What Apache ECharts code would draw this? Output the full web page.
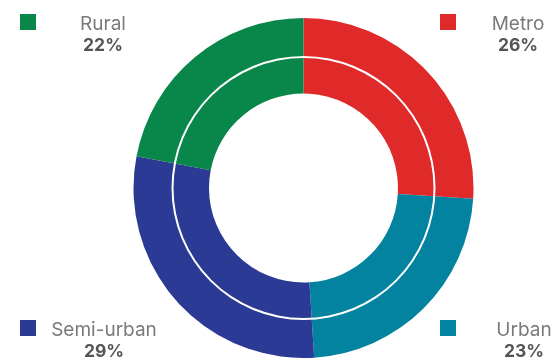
<!DOCTYPE html>
<html>
<head>
<meta charset="utf-8">
<script src="https://cdn.jsdelivr.net/npm/echarts@6/dist/echarts.min.js"></script>
<style>
html,body{margin:0;padding:0;background:#fff;}
#c{width:554px;height:358px;}
</style>
</head>
<body>
<div id="c"></div>
<script>
const categories = ['Metro', 'Urban', 'Semi-urban', 'Rural'];
const values = [26, 23, 29, 22];
const colors = ['#E02A2A', '#0383A0', '#2B3A94', '#09874B'];

const chart = echarts.init(document.getElementById('c'), null, {renderer: 'canvas'});

function legendFor(name, pos, boxW) {
  const idx = categories.indexOf(name);
  return Object.assign({
    data: [name],
    orient: 'vertical',
    itemWidth: 16,
    itemHeight: 16,
    itemGap: 0,
    padding: 0,
    icon: 'rect',
    selectedMode: false,
    formatter: function () {
      return '{n|' + name + '}\n{v|' + values[idx] + '%}';
    },
    textStyle: {
      padding: [26, 0, 0, 0],
      rich: {
        n: {fontFamily: 'Inter', fontSize: 19, color: '#7a7a7a', lineHeight: 22, width: boxW, align: 'center'},
        v: {fontFamily: 'Inter', fontSize: 17.5, fontWeight: 'bold', color: '#555555', lineHeight: 22, width: boxW, align: 'center'}
      }
    }
  }, pos);
}

chart.setOption({
  animation: false,
  legend: [
    legendFor('Rural', {left: 20, top: 14}, 124),
    legendFor('Metro', {left: 440, top: 14}, 114),
    legendFor('Semi-urban', {left: 20, top: 320}, 126),
    legendFor('Urban', {left: 440, top: 320}, 126)
  ],
  series: [
    {
      type: 'pie',
      center: [303.5, 188],
      radius: [94.5, 170],
      startAngle: 90,
      clockwise: true,
      label: {show: false},
      labelLine: {show: false},
      emphasis: {disabled: true},
      itemStyle: {borderWidth: 0},
      data: categories.map((c, i) => ({name: c, value: values[i], itemStyle: {color: colors[i]}}))
    },
    {
      type: 'pie',
      center: [303.5, 188],
      radius: [130, 132],
      silent: true,
      z: 5,
      label: {show: false},
      labelLine: {show: false},
      itemStyle: {color: '#ffffff', borderWidth: 0},
      data: [{name: '_ring', value: 1}]
    }
  ]
});
</script>
</body>
</html>
